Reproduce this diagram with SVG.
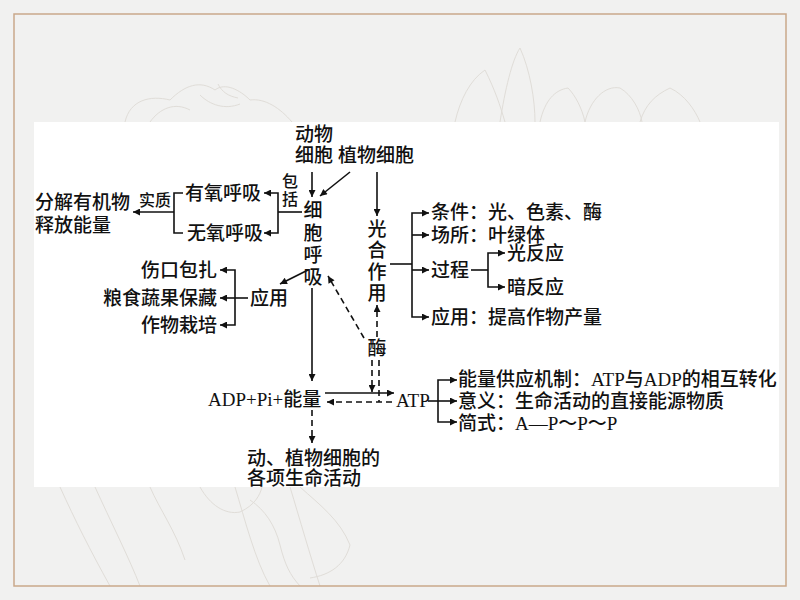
<svg xmlns="http://www.w3.org/2000/svg" width="800" height="600" viewBox="0 0 800 600">
<style>
.t{font-family:"Liberation Serif","Noto Sans CJK SC",serif;font-size:19px;font-weight:500;fill:#111;dominant-baseline:central}
.s{font-size:16px}
.m{text-anchor:middle}
.e{text-anchor:end}
.ln{fill:none;stroke:#111;stroke-width:1.6}
.ar{marker-end:url(#ah)}
.d{stroke-dasharray:6 4}
.deco{fill:none;stroke:#e0ddd8;stroke-width:1}
</style>
<defs>
<marker id="ah" viewBox="0 0 10 10" refX="10" refY="5" markerWidth="10" markerHeight="7" markerUnits="userSpaceOnUse" orient="auto"><path d="M0,0 L10,5 L0,10 z" fill="#111"/></marker>
</defs>
<rect x="0" y="0" width="800" height="600" fill="#f1f1f0"/>
<g id="decoration">
<path class="deco" d="M125,122 C130,100 150,95 170,100 C185,85 200,80 215,90 C225,82 240,90 250,100 C265,98 280,108 292,122"/>
<path class="deco" d="M150,122 C160,108 175,102 190,110 M200,95 C210,105 225,110 240,104 M218,84 C222,92 228,96 238,98"/>
<path class="deco" d="M455,122 C460,100 470,80 485,70 C495,90 500,105 505,122"/>
<path class="deco" d="M500,122 C505,90 512,60 520,48 C530,70 535,100 535,122"/>
<path class="deco" d="M540,122 C545,100 555,90 568,88 C575,95 582,108 585,122"/>
<path class="deco" d="M585,122 C590,100 605,85 620,88 C632,95 640,110 642,122"/>
<path class="deco" d="M640,122 C645,105 655,95 670,88 C685,95 695,110 700,122"/>
<path class="deco" d="M60,487 C75,520 90,550 110,586 M95,487 C110,520 130,560 140,586 M150,487 C160,510 175,530 185,560"/>
<path class="deco" d="M200,487 C210,505 225,515 240,512 C255,505 260,495 262,487"/>
<path class="deco" d="M235,487 C245,520 255,560 270,586 M290,487 C300,520 310,555 320,586"/>
<path class="deco" d="M250,500 C265,510 275,525 280,545 C285,565 290,575 300,586"/>
<path class="deco" d="M300,487 C320,505 340,520 350,545 C345,565 330,575 310,578"/>
</g>
<rect x="14" y="14" width="772" height="572" fill="none" stroke="#c9a88a" stroke-width="1.5"/>
<rect x="34" y="122" width="745" height="365" fill="#ffffff"/>

<g id="connectors">
<path class="ln ar" d="M312,172 V197"/>
<path class="ln ar" d="M350,172 L320,196"/>
<path class="ln ar" d="M377,172 V216"/>
<path class="ln" d="M302,212 H278"/>
<path class="ln ar" d="M278,212 V193 H264"/>
<path class="ln ar" d="M278,212 V233 H264"/>
<path class="ln" d="M183,193 H174 V233 H183"/>
<path class="ln ar" d="M174,212 H133"/>
<path class="ln ar" d="M308,270 L280,284"/>
<path class="ln" d="M248,298 H235"/>
<path class="ln ar" d="M235,298 V270 H220"/>
<path class="ln ar" d="M235,298 V325 H220"/>
<path class="ln ar" d="M235,298 H220"/>
<path class="ln ar" d="M312,288 V381"/>
<path class="ln d ar" d="M364,338 L328,276"/>
<path class="ln d ar" d="M377,337 V305"/>
<path class="ln d ar" d="M372,360 V392"/>
<path class="ln d" d="M379,360 V402"/>
<path class="ln ar" d="M325,393 H394"/>
<path class="ln d ar" d="M392,402 H327"/>
<path class="ln d ar" d="M312,410 V443"/>
<path class="ln" d="M428,401 H438"/>
<path class="ln ar" d="M438,401 V380 H457"/>
<path class="ln ar" d="M438,401 V422 H457"/>
<path class="ln ar" d="M438,401 H457"/>
<path class="ln" d="M390,264 H412"/>
<path class="ln ar" d="M412,264 V213 H429"/>
<path class="ln ar" d="M412,235 H429"/>
<path class="ln ar" d="M412,270 H429"/>
<path class="ln ar" d="M412,264 V317 H429"/>
<path class="ln" d="M471,270 H488"/>
<path class="ln ar" d="M488,270 V253 H505"/>
<path class="ln ar" d="M488,270 V287 H505"/>
</g>

<g id="animal-cell"><text class="t" x="295" y="134">动物</text><text class="t" x="295" y="155">细胞</text></g>
<g id="plant-cell"><text class="t" x="338" y="155">植物细胞</text></g>
<g id="include-label"><text class="t s m" x="290" y="181">包</text><text class="t s m" x="290" y="199">括</text></g>
<g id="aerobic"><text class="t" x="185" y="193">有氧呼吸</text></g>
<g id="anaerobic"><text class="t" x="187" y="233">无氧呼吸</text></g>
<g id="essence-label"><text class="t s" x="139" y="200">实质</text></g>
<g id="decompose"><text class="t" x="35" y="202">分解有机物</text><text class="t" x="35" y="225">释放能量</text></g>
<g id="respiration">
<text class="t m" x="313" y="210">细</text><text class="t m" x="313" y="233">胞</text><text class="t m" x="313" y="255">呼</text><text class="t m" x="313" y="277">吸</text>
</g>
<g id="photosynthesis">
<text class="t m" x="377" y="229">光</text><text class="t m" x="377" y="250">合</text><text class="t m" x="377" y="272">作</text><text class="t m" x="377" y="293">用</text>
</g>
<g id="resp-apps">
<text class="t e" x="217" y="270">伤口包扎</text>
<text class="t e" x="217" y="298">粮食蔬果保藏</text>
<text class="t e" x="217" y="325">作物栽培</text>
</g>
<g id="resp-use"><text class="t" x="250" y="298">应用</text></g>
<g id="enzyme"><text class="t m" x="377" y="348">酶</text></g>
<g id="ps-condition"><text class="t" x="431" y="212">条件：光、色素、酶</text></g>
<g id="ps-site"><text class="t" x="431" y="235">场所：叶绿体</text></g>
<g id="ps-process"><text class="t" x="431" y="270">过程</text></g>
<g id="light-reaction"><text class="t" x="507" y="253">光反应</text></g>
<g id="dark-reaction"><text class="t" x="507" y="287">暗反应</text></g>
<g id="ps-use"><text class="t" x="431" y="317">应用：提高作物产量</text></g>
<g id="adp"><text class="t" x="208" y="399">ADP+Pi+能量</text></g>
<g id="atp"><text class="t" x="396" y="400">ATP</text></g>
<g id="atp-mech"><text class="t" x="458" y="379">能量供应机制：ATP与ADP的相互转化</text></g>
<g id="atp-meaning"><text class="t" x="458" y="401">意义：生命活动的直接能源物质</text></g>
<g id="atp-formula"><text class="t" x="458" y="423">简式：A—P～P～P</text></g>
<g id="life-activities"><text class="t" x="247" y="458">动、植物细胞的</text><text class="t" x="247" y="478">各项生命活动</text></g>
</svg>
